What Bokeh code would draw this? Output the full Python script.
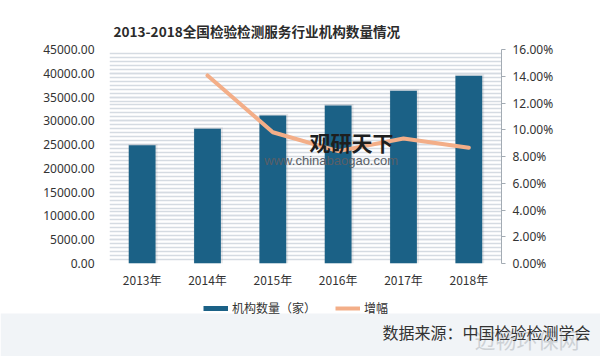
from bokeh.plotting import figure
from bokeh.layouts import column
from bokeh.models import (Range1d, FactorRange, LinearAxis, SingleIntervalTicker,
                          NumeralTickFormatter, Label, Legend, LegendItem, Title,
                          ColumnDataSource, BoxAnnotation)
from bokeh.transform import dodge
from bokeh.embed import file_html
from bokeh.resources import INLINE

years = ["2013年", "2014年", "2015年", "2016年", "2017年", "2018年"]
institutions = [24847, 28340, 31122, 33235, 36327, 39472]
growth_years = ["2014年", "2015年", "2016年", "2017年", "2018年"]
growth = [0.1406, 0.0981, 0.0840, 0.0935, 0.0866]

title_text = "2013-2018全国检验检测服务行业机构数量情况"
bar_name = "机构数量（家）"
line_name = "增幅"
source_text = "数据来源：中国检验检测学会"

BAR = "#1b6186"
LINE = "#f3ae88"
CJK = "Noto Sans CJK SC"
NAN = float("nan")

p = figure(width=600, height=290, output_backend="svg", toolbar_location=None,
           x_range=FactorRange(*years), y_range=Range1d(0, 45000),
           min_border_left=109, min_border_right=99, min_border_top=49, min_border_bottom=27)
p.frame_align = False
p.title = Title(text=title_text, align="left", offset=4, standoff=17,
                text_font=CJK, text_font_size="13.6px", text_font_style="bold",
                text_color="#2b2b2b")
p.border_fill_color = "#ffffff"
p.background_fill_color = "#ffffff"
p.outline_line_color = None
p.extra_y_ranges = {"pct": Range1d(0, 0.16)}

# axes
p.yaxis.ticker = SingleIntervalTicker(interval=5000, num_minor_ticks=6)
p.yaxis.formatter = NumeralTickFormatter(format="0.00")
p.yaxis.axis_line_color = None
p.yaxis.major_tick_line_color = None
p.yaxis.minor_tick_line_color = None
p.yaxis.major_tick_out = 0
p.yaxis.major_tick_in = 0
p.yaxis.minor_tick_out = 0
p.yaxis.major_label_standoff = 15
p.yaxis.major_label_text_font = "Noto Sans"
p.yaxis.major_label_text_font_size = "12px"
p.yaxis.major_label_text_color = "#333333"

ra = LinearAxis(y_range_name="pct", ticker=SingleIntervalTicker(interval=0.02),
                formatter=NumeralTickFormatter(format="0.00%"))
ra.axis_line_color = "#a3abb3"
ra.major_tick_line_color = "#a3abb3"
ra.major_tick_out = 4
ra.major_tick_in = 0
ra.minor_tick_line_color = None
ra.minor_tick_out = 0
ra.major_label_standoff = 7
ra.major_label_text_font = "Noto Sans"
ra.major_label_text_font_size = "12px"
ra.major_label_text_color = "#333333"
p.add_layout(ra, "right")

p.xaxis.axis_line_color = None
p.xaxis.major_tick_line_color = None
p.xaxis.major_tick_out = 0
p.xaxis.major_tick_in = 0
p.xaxis.major_label_standoff = 7
p.xaxis.major_label_text_font = CJK
p.xaxis.major_label_text_font_size = "12px"
p.xaxis.major_label_text_color = "#333333"

p.xgrid.grid_line_color = None
p.ygrid.grid_line_color = "#d5dbe2"
p.ygrid.grid_line_width = 1.5
p.ygrid.minor_grid_line_color = "#d5dbe2"
p.ygrid.minor_grid_line_width = 1.5

src = ColumnDataSource(dict(x=years, top=institutions, stop=[v + 300 for v in institutions]))
p.vbar(x=dodge("x", 0.012, range=p.x_range), top="stop", width=0.445, source=src,
       fill_color="#7d8790", fill_alpha=0.18, line_color=None)
p.vbar(x="x", top="top", width=0.41, source=src, fill_color=BAR, line_color=None)

p.line(x=growth_years, y=growth, y_range_name="pct", line_color=LINE,
       line_width=4, line_cap="round", line_join="round")

# watermark inside the plot
p.add_layout(Label(x=3.06, y=25480, text="观研天下", text_align="left",
                   text_baseline="middle", text_font=CJK, text_font_size="21px",
                   text_font_style="bold", text_color="#1e1e1e"))
p.add_layout(Label(x=2.37, y=21630, text="www.chinabaogao.com", text_align="left",
                   text_baseline="middle", text_font="Liberation Sans", text_font_size="13px",
                   text_color="#5a5f66"))

# footer figure: legend, source, watermark (y in page pixels, top down)
f = figure(width=600, height=66, output_backend="svg", toolbar_location=None,
           x_range=Range1d(0, 600), y_range=Range1d(356, 290),
           x_axis_type=None, y_axis_type=None,
           min_border_left=0, min_border_right=0, min_border_top=0, min_border_bottom=0)
f.frame_align = False
f.grid.visible = False
f.outline_line_color = None
f.border_fill_color = "#ffffff"
f.background_fill_color = "#ffffff"
f.add_layout(BoxAnnotation(top=313, bottom=356, fill_color="#f1f4f7", fill_alpha=1.0,
                           line_color=None, level="underlay"))

lb = f.line(x=[NAN, NAN], y=[NAN, NAN], line_color=BAR, line_width=5)
ll = f.line(x=[NAN, NAN], y=[NAN, NAN], line_color=LINE, line_width=4)
legend = Legend(items=[LegendItem(label=bar_name, renderers=[lb]),
                       LegendItem(label=line_name, renderers=[ll])],
                orientation="horizontal", location=(203, 40),
                glyph_width=25, glyph_height=16, label_height=16,
                label_standoff=4, spacing=19, padding=4, margin=0,
                label_text_font=CJK, label_text_font_size="12px",
                label_text_color="#333333",
                background_fill_alpha=0, border_line_color=None)
f.add_layout(legend, "center")

f.add_layout(Label(x=474, y=338, text="迈畅环保网", text_align="left",
                   text_baseline="middle", text_font=CJK, text_font_size="21px",
                   text_color="#cdd1d5"))
f.add_layout(Label(x=590, y=331.7, text=source_text, text_align="right",
                   text_baseline="middle", text_font=CJK, text_font_size="16px",
                   text_color="#333333"))

layout = column(p, f, spacing=0)
open("out.html", "w").write(file_html(layout, INLINE))
